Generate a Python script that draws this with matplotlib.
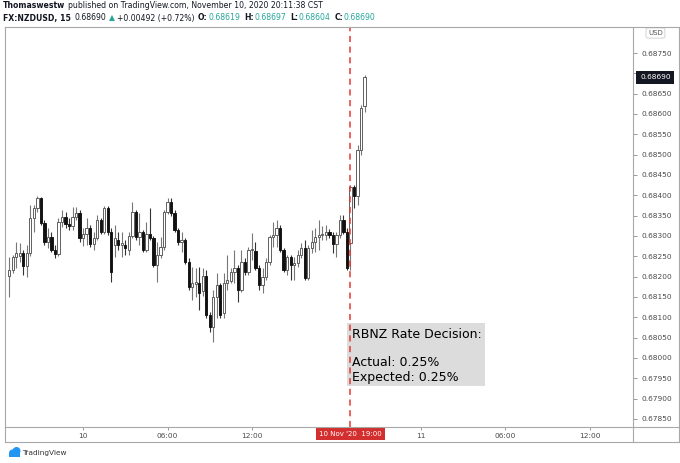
import numpy as np
import pandas as pd
import matplotlib
matplotlib.use('Agg')
import matplotlib.pyplot as plt
import matplotlib.transforms as mtransforms
from matplotlib.patches import Rectangle, Circle
from matplotlib.lines import Line2D

# NZDUSD 15-minute candles, first one is Nov 9 18:45
start = pd.Timestamp('2020-11-09 18:45')

opens = [
    0.68202, 0.68216, 0.68248, 0.68251, 0.68258, 0.68226, 0.68258, 0.68344, 0.68369, 0.68393,
    0.68332, 0.68285, 0.68298, 0.68266, 0.68256, 0.68334, 0.68347, 0.68330, 0.68325, 0.68347,
    0.68357, 0.68295, 0.68305, 0.68320, 0.68280, 0.68295, 0.68339, 0.68310, 0.68369, 0.68310,
    0.68278, 0.68290, 0.68278, 0.68278, 0.68266, 0.68300, 0.68359, 0.68298, 0.68310, 0.68266,
    0.68305, 0.68295, 0.68229, 0.68253, 0.68273, 0.68359, 0.68384, 0.68357, 0.68315, 0.68285,
    0.68290, 0.68236, 0.68175, 0.68182, 0.68184, 0.68165, 0.68202, 0.68106, 0.68076, 0.68150,
    0.68180, 0.68111, 0.68184, 0.68189, 0.68211, 0.68221, 0.68167, 0.68236, 0.68211, 0.68266,
    0.68263, 0.68221, 0.68180, 0.68199, 0.68236, 0.68298, 0.68302, 0.68320, 0.68266, 0.68216,
    0.68248, 0.68229, 0.68234, 0.68253, 0.68270, 0.68197, 0.68270, 0.68285, 0.68298, 0.68302,
    0.68303, 0.68310, 0.68302, 0.68280, 0.68302, 0.68339, 0.68310, 0.68283, 0.68420, 0.68398,
    0.68511, 0.68619]

highs = [
    0.68248, 0.68253, 0.68285, 0.68283, 0.68266, 0.68278, 0.68376, 0.68376, 0.68398, 0.68396,
    0.68339, 0.68320, 0.68310, 0.68278, 0.68344, 0.68364, 0.68359, 0.68344, 0.68371, 0.68371,
    0.68364, 0.68320, 0.68344, 0.68327, 0.68310, 0.68352, 0.68344, 0.68374, 0.68374, 0.68320,
    0.68327, 0.68310, 0.68310, 0.68290, 0.68310, 0.68384, 0.68364, 0.68357, 0.68315, 0.68334,
    0.68369, 0.68300, 0.68285, 0.68298, 0.68364, 0.68393, 0.68393, 0.68364, 0.68320, 0.68310,
    0.68295, 0.68246, 0.68224, 0.68221, 0.68224, 0.68221, 0.68216, 0.68113, 0.68167, 0.68209,
    0.68184, 0.68209, 0.68253, 0.68221, 0.68266, 0.68229, 0.68266, 0.68246, 0.68273, 0.68307,
    0.68285, 0.68229, 0.68221, 0.68246, 0.68302, 0.68334, 0.68339, 0.68327, 0.68270, 0.68253,
    0.68253, 0.68248, 0.68266, 0.68283, 0.68290, 0.68278, 0.68315, 0.68320, 0.68339, 0.68325,
    0.68327, 0.68317, 0.68310, 0.68310, 0.68352, 0.68352, 0.68320, 0.68425, 0.68425, 0.68524,
    0.68622, 0.68697]

lows = [
    0.68150, 0.68209, 0.68221, 0.68236, 0.68204, 0.68199, 0.68251, 0.68310, 0.68359, 0.68327,
    0.68278, 0.68270, 0.68261, 0.68246, 0.68251, 0.68322, 0.68320, 0.68315, 0.68315, 0.68339,
    0.68285, 0.68275, 0.68278, 0.68273, 0.68266, 0.68290, 0.68305, 0.68305, 0.68302, 0.68187,
    0.68248, 0.68266, 0.68248, 0.68253, 0.68253, 0.68295, 0.68290, 0.68278, 0.68261, 0.68261,
    0.68290, 0.68224, 0.68187, 0.68246, 0.68266, 0.68354, 0.68349, 0.68310, 0.68278, 0.68261,
    0.68231, 0.68167, 0.68143, 0.68150, 0.68118, 0.68153, 0.68098, 0.68064, 0.68039, 0.68098,
    0.68098, 0.68098, 0.68167, 0.68184, 0.68184, 0.68138, 0.68162, 0.68204, 0.68204, 0.68241,
    0.68216, 0.68167, 0.68160, 0.68192, 0.68229, 0.68273, 0.68273, 0.68261, 0.68211, 0.68204,
    0.68192, 0.68192, 0.68224, 0.68246, 0.68192, 0.68192, 0.68258, 0.68261, 0.68266, 0.68290,
    0.68290, 0.68295, 0.68258, 0.68248, 0.68295, 0.68305, 0.68216, 0.68216, 0.68369, 0.68376,
    0.68499, 0.68604]

closes = [
    0.68216, 0.68248, 0.68258, 0.68258, 0.68226, 0.68258, 0.68344, 0.68369, 0.68393, 0.68332,
    0.68285, 0.68298, 0.68266, 0.68256, 0.68334, 0.68347, 0.68330, 0.68325, 0.68347, 0.68357,
    0.68295, 0.68305, 0.68320, 0.68280, 0.68295, 0.68339, 0.68310, 0.68369, 0.68310, 0.68211,
    0.68295, 0.68278, 0.68283, 0.68270, 0.68300, 0.68359, 0.68298, 0.68310, 0.68266, 0.68305,
    0.68295, 0.68229, 0.68253, 0.68273, 0.68359, 0.68384, 0.68357, 0.68315, 0.68285, 0.68290,
    0.68236, 0.68175, 0.68184, 0.68187, 0.68160, 0.68202, 0.68106, 0.68076, 0.68150, 0.68180,
    0.68106, 0.68184, 0.68192, 0.68211, 0.68221, 0.68167, 0.68236, 0.68211, 0.68266, 0.68268,
    0.68221, 0.68180, 0.68199, 0.68236, 0.68298, 0.68302, 0.68320, 0.68266, 0.68216, 0.68248,
    0.68229, 0.68234, 0.68253, 0.68270, 0.68197, 0.68270, 0.68285, 0.68298, 0.68302, 0.68305,
    0.68310, 0.68302, 0.68280, 0.68302, 0.68339, 0.68310, 0.68221, 0.68420, 0.68398, 0.68511,
    0.68615, 0.68690]

price_ticks = np.arange(0.67850, 0.687501, 0.0005)
time_ticks = ['2020-11-10 00:00', '2020-11-10 06:00', '2020-11-10 12:00',
              '2020-11-11 00:00', '2020-11-11 06:00', '2020-11-11 12:00']
time_labels = ['10', '06:00', '12:00', '11', '06:00', '12:00']
event_time = '2020-11-10 19:00'
last_price = 0.68690


def idx(t):
    return (pd.Timestamp(t) - start) / pd.Timedelta('15min')


W, H = 680, 463
fig = plt.figure(figsize=(W / 100, H / 100), dpi=100)
fig.patch.set_facecolor('white')


def box(x0, y0, x1, y1):
    return [x0 / W, 1 - y1 / H, (x1 - x0) / W, (y1 - y0) / H]


ax = fig.add_axes(box(5, 27, 633, 427))
for s in ax.spines.values():
    s.set_visible(False)

o = np.array(opens)
h = np.array(highs)
l = np.array(lows)
c = np.array(closes)
x = np.arange(len(o))
up = c >= o

ax.vlines(x[up], l[up], h[up], color='#777777', lw=0.8, zorder=2)
ax.vlines(x[~up], l[~up], h[~up], color='#333333', lw=0.8, zorder=2)
hgt = np.maximum(np.abs(c - o), 0.00002)
ax.bar(x[up], hgt[up], bottom=o[up], width=0.65, color='white',
       edgecolor='#555555', lw=0.65, zorder=3)
ax.bar(x[~up], hgt[~up], bottom=c[~up], width=0.65, color='#111111',
       edgecolor='#111111', lw=0.65, zorder=3)

ax.set_xlim(-1.2, 177.3)
ax.set_ylim(0.67830, 0.68814)

# the 0.68700 label sits behind the last-price tag, so leave it blank
ax.yaxis.tick_right()
ax.set_yticks(price_ticks)
ax.set_yticklabels(['' if abs(v - 0.687) < 1e-6 else f'{v:.5f}' for v in price_ticks])
ax.tick_params(axis='y', length=3, width=0.6, color='#888888', pad=3,
               labelsize=5.3, labelcolor='#4a4a4a')
ax.set_xticks([idx(t) for t in time_ticks])
ax.set_xticklabels(time_labels)
ax.tick_params(axis='x', length=2.5, width=0.6, color='#888888', pad=2,
               labelsize=5.3, labelcolor='#4a4a4a')

# event line
ev = idx(event_time)
ax.axvline(ev, color='#e53935', ls=(0, (4, 3)), lw=1.1, zorder=4)

# annotation box
ax.add_patch(Rectangle((0.5446, 0.1025), 0.2197, 0.1575, transform=ax.transAxes,
                       fc='#dcdcdc', ec='none', zorder=1.5))
tf = dict(transform=ax.transAxes, fontsize=9, color='#000000', family='DejaVu Sans',
          ha='left', va='center', zorder=5)
ax.text(0.5525, 0.23, 'RBNZ Rate Decision:', **tf)
ax.text(0.5525, 0.1625, 'Actual: 0.25%', **tf)
ax.text(0.5525, 0.125, 'Expected: 0.25%', **tf)

# price tag and date tag
blend_y = mtransforms.blended_transform_factory(ax.transAxes, ax.transData)
ax.text(1.0358, last_price, f'{last_price:.5f}', transform=blend_y, fontsize=5.3,
        color='white', ha='center', va='center', clip_on=False, zorder=6,
        bbox=dict(boxstyle='square,pad=0.5', fc='#131722', ec='none'))
blend_x = mtransforms.blended_transform_factory(ax.transData, ax.transAxes)
ax.text(ev, -0.0175, "10 Nov '20  19:00", transform=blend_x, fontsize=5,
        color='white', ha='center', va='center', clip_on=False, zorder=6,
        bbox=dict(boxstyle='square,pad=0.45', fc='#d32f2f', ec='none'))
ax.text(1.0358, 0.985, 'USD', transform=ax.transAxes, fontsize=5, color='#555555',
        ha='center', va='center', clip_on=False,
        bbox=dict(boxstyle='round,pad=0.3', fc='white', ec='#cccccc', lw=0.6))

# frame lines
frame = '#a8a8a8'
for (x0, y0, x1, y1) in [(5, 27, 679, 27), (5, 27, 5, 442), (633, 27, 633, 442),
                         (679, 27, 679, 442), (5, 427, 679, 427), (5, 442, 679, 442)]:
    fig.add_artist(Line2D([x0 / W, x1 / W], [1 - y0 / H, 1 - y1 / H],
                          transform=fig.transFigure, color=frame, lw=0.8))

# header
renderer = fig.canvas.get_renderer()
dark = '#131722'
teal = '#26a69a'


def write_line(pieces, x0, y0, size=5.6):
    xp = x0
    for s, weight, color, gap in pieces:
        t = fig.text(xp / W, 1 - y0 / H, s, fontsize=size, fontweight=weight,
                     color=color, ha='left', va='center')
        xp += t.get_window_extent(renderer).width + gap


write_line([('Thomaswestw', 'bold', dark, 3),
            ('published on TradingView.com, November 10, 2020 20:11:38 CST', 'normal', dark, 0)],
           3, 6)
write_line([('FX:NZDUSD, 15', 'bold', dark, 4),
            ('0.68690', 'normal', dark, 2),
            ('\u25b2', 'normal', teal, 2),
            ('+0.00492 (+0.72%)', 'normal', dark, 4),
            ('O:', 'bold', dark, 0.5), ('0.68619', 'normal', teal, 4),
            ('H:', 'bold', dark, 0.5), ('0.68697', 'normal', teal, 4),
            ('L:', 'bold', dark, 0.5), ('0.68604', 'normal', teal, 4),
            ('C:', 'bold', dark, 0.5), ('0.68690', 'normal', teal, 0)],
           3, 18)

# TradingView logo
it = fig.dpi_scale_trans
fig.add_artist(Circle((12.5 / 100, (H - 453) / 100), 0.035, transform=it, fc='#2196f3', ec='none'))
fig.add_artist(Circle((16.5 / 100, (H - 451) / 100), 0.04, transform=it, fc='#2196f3', ec='none'))
fig.add_artist(Rectangle((9 / 100, (H - 457) / 100), 0.11, 0.04, transform=it, fc='#2196f3', ec='none'))
fig.text(22 / W, 1 - 453 / H, 'TradingView', fontsize=5.3, color='#333333', ha='left', va='center')

fig.savefig('out.png', dpi=100)
